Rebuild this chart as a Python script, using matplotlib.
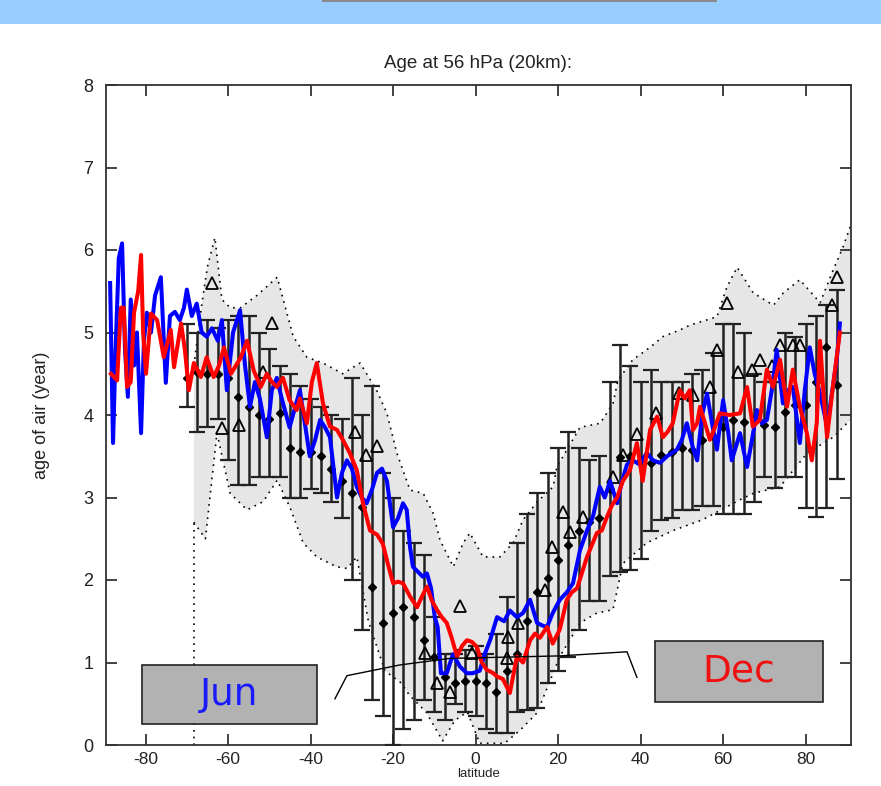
import numpy as np
import matplotlib
matplotlib.use("Agg")
import matplotlib.pyplot as plt
from matplotlib.patches import Rectangle

plt.rcParams['font.family'] = ['Liberation Sans', 'DejaVu Sans']
plt.rcParams['axes.unicode_minus'] = False

# model runs (Jun = blue, Dec = red)
jun_lat = [-88.6, -87.9, -87.2, -86.5, -85.7, -85.0, -84.3, -83.6, -82.8, -82.1,
           -81.1, -80.4, -79.7, -78.7, -77.7, -76.3, -75.1, -74.1, -72.9, -71.7,
           -70.7, -70.0, -68.8, -67.6, -66.4, -65.2, -63.9, -62.5, -61.5, -60.3,
           -58.8, -57.1, -55.9, -54.7, -53.5, -52.3, -50.6, -49.4, -48.2, -47.0,
           -45.1, -42.6, -41.4, -40.2, -38.9, -37.7, -36.5, -35.3, -33.6, -32.4,
           -31.2, -30.0, -28.8, -27.6, -26.4, -25.1, -23.9, -22.7, -21.5, -20.0,
           -18.8, -17.6, -16.7, -15.9, -15.2, -14.0, -12.8, -11.8, -10.8, -9.9,
           -9.2, -8.4, -7.0, -5.5, -3.8, -2.1, -0.7, 1.0, 2.2, 3.5,
           5.2, 6.9, 8.3, 10.0, 11.5, 13.2, 14.9, 16.1, 17.3, 18.7,
           20.4, 22.1, 23.6, 25.3, 27.0, 28.4, 30.1, 31.3, 32.6, 34.3,
           35.5, 36.7, 38.1, 39.8, 41.5, 43.0, 44.7, 46.4, 48.8, 50.0,
           51.2, 52.7, 53.7, 54.9, 56.1, 57.3, 58.5, 60.0, 61.2, 62.1,
           64.1, 65.8, 67.0, 68.2, 69.4, 70.6, 71.8, 73.0, 74.5, 75.7,
           76.9, 78.6, 79.8, 81.0, 82.2, 83.5, 85.2, 86.6, 87.6, 88.3]
jun_age = [5.6, 3.66, 4.9, 5.9, 6.08, 4.8, 4.22, 5.4, 4.6, 5.0,
           3.78, 4.9, 5.24, 5.0, 5.45, 5.67, 4.39, 5.2, 5.25, 5.15,
           5.3, 5.52, 5.2, 5.35, 5.0, 4.95, 5.05, 4.9, 5.15, 4.3,
           5.0, 5.27, 4.6, 4.1, 4.4, 4.2, 3.73, 4.3, 4.45, 4.2,
           3.85, 4.3, 3.9, 3.5, 3.7, 3.94, 3.85, 3.73, 3.0, 3.3,
           3.45, 3.35, 3.13, 3.0, 2.93, 3.1, 3.3, 3.35, 3.2, 2.64,
           2.75, 2.93, 2.85, 2.4, 2.16, 2.1, 2.04, 2.08, 1.9, 1.55,
           1.43, 0.87, 0.87, 1.1, 0.95, 0.87, 0.87, 0.9, 1.1, 1.27,
           1.55, 1.5, 1.63, 1.55, 1.6, 1.76, 1.48, 1.45, 1.43, 1.6,
           1.76, 1.85, 1.96, 2.36, 2.6, 2.76, 3.13, 3.0, 3.2, 2.93,
           3.2, 3.4, 3.45, 3.4, 3.54, 3.45, 3.42, 3.5, 3.58, 3.7,
           3.9, 3.6, 3.45, 4.0, 4.26, 3.9, 3.58, 4.18, 3.8, 3.45,
           3.78, 3.37, 3.7, 4.06, 3.9, 3.94, 4.3, 4.79, 4.14, 4.3,
           4.34, 3.66, 4.3, 4.82, 4.5, 4.26, 3.86, 4.34, 4.7, 5.11]

dec_lat = [-88.4, -86.9, -86.0, -85.3, -84.5, -83.6, -82.8, -81.8, -81.1, -80.6,
           -79.9, -78.7, -77.2, -75.6, -73.9, -73.1, -71.4, -70.5, -69.5, -68.3,
           -66.6, -65.2, -63.5, -62.2, -61.0, -59.3, -58.1, -56.9, -55.4, -53.8,
           -52.1, -50.6, -49.4, -48.2, -46.7, -45.1, -43.4, -42.6, -40.9, -39.7,
           -38.5, -37.0, -35.3, -33.6, -32.2, -30.5, -28.8, -27.3, -25.6, -23.9,
           -22.5, -21.3, -20.0, -18.8, -17.6, -15.9, -14.2, -13.0, -11.8, -10.6,
           -9.4, -8.2, -7.0, -5.8, -4.5, -3.3, -2.1, -0.9, 0.3, 1.5,
           2.7, 4.0, 5.2, 6.6, 8.3, 10.0, 11.5, 13.2, 14.4, 15.6,
           17.3, 18.7, 20.4, 22.1, 23.3, 24.6, 26.0, 27.0, 29.4, 30.6,
           31.8, 33.0, 34.3, 35.7, 37.4, 39.1, 40.5, 42.3, 44.0, 45.4,
           46.6, 47.8, 49.5, 50.7, 51.9, 52.7, 53.7, 54.4, 55.6, 56.8,
           58.0, 59.2, 61.6, 64.1, 65.8, 67.2, 68.9, 70.6, 72.1, 73.8,
           75.5, 76.9, 78.6, 80.3, 81.5, 82.7, 83.5, 84.4, 85.2, 86.6,
           88.3]
dec_age = [4.5, 4.42, 5.3, 5.3, 4.34, 4.4, 5.24, 5.5, 5.94, 5.0,
           4.5, 5.23, 5.15, 4.7, 5.03, 4.58, 5.11, 4.8, 4.3, 4.63,
           4.46, 4.7, 4.46, 4.6, 4.82, 4.5, 4.6, 4.7, 4.9, 4.54,
           4.34, 4.5, 4.4, 4.34, 4.45, 4.18, 4.06, 4.2, 3.9, 4.4,
           4.63, 4.14, 3.86, 3.82, 3.7, 3.54, 3.33, 2.93, 2.6, 2.55,
           2.44, 2.2, 1.96, 1.98, 1.96, 1.8, 1.67, 1.8, 1.92, 1.75,
           1.64, 1.55, 1.48, 1.3, 1.07, 1.2, 1.27, 1.25, 1.19, 1.0,
           0.91, 0.88, 0.83, 0.8, 0.63, 1.07, 1.0, 1.27, 1.35, 1.3,
           1.43, 1.23, 1.4, 1.76, 1.85, 1.9, 2.12, 2.28, 2.57, 2.6,
           2.76, 2.9, 3.0, 3.2, 3.33, 3.66, 3.2, 3.82, 3.98, 3.73,
           3.8, 3.9, 4.3, 4.2, 4.3, 3.82, 3.9, 4.1, 3.9, 3.7,
           3.85, 4.02, 4.0, 4.02, 4.34, 3.86, 3.94, 4.55, 4.34, 4.67,
           4.1, 4.55, 4.1, 3.78, 3.45, 3.9, 4.9, 4.2, 3.73, 4.34,
           5.0]

# observations: binned mean with range
obs_lat = [-70, -67.5, -65, -62.5, -60, -57.5, -55, -52.5, -50, -47.5,
           -45, -42.5, -40, -37.5, -35, -32.5, -30, -27.5, -25, -22.5,
           -20, -17.5, -15, -12.5, -10, -7.5, -5, -2.5, 0, 2.5,
           5, 7.5, 10, 12.5, 15, 17.5, 20, 22.5, 25, 27.5,
           30, 32.5, 35, 37.5, 40, 42.5, 45, 47.5, 50, 52.5,
           55, 57.5, 60, 62.5, 65, 67.5, 70, 72.5, 75, 77.5,
           80, 82.5, 85, 87.5]
obs_mean = [4.45, 4.52, 4.5, 4.5, 4.45, 4.22, 4.1, 4.0, 3.95, 4.02,
            3.6, 3.55, 3.55, 3.5, 3.35, 3.2, 3.05, 2.88, 1.92, 1.48,
            1.6, 1.67, 1.55, 1.27, 1.07, 0.83, 0.75, 0.77, 0.77, 0.75,
            0.64, 0.9, 1.1, 1.5, 1.85, 2.02, 2.24, 2.42, 2.6, 2.7,
            2.75, 3.1, 3.49, 3.5, 3.45, 3.42, 3.51, 3.55, 3.6, 3.58,
            3.7, 3.75, 3.85, 3.94, 3.92, 3.95, 3.88, 3.85, 4.04, 4.12,
            4.12, 4.4, 4.82, 4.36]
obs_lo = [4.1, 3.8, 3.85, 3.95, 3.45, 3.15, 3.15, 3.25, 3.25, 3.25,
          3.0, 3.0, 3.1, 3.05, 2.95, 2.75, 2.0, 1.4, 0.55, 0.35,
          0.0, 0.2, 0.3, 0.55, 0.4, 0.3, 0.5, 0.4, 0.35, 0.2,
          0.15, 0.15, 0.4, 0.42, 0.45, 0.75, 0.9, 1.07, 1.4, 1.75,
          1.75, 2.05, 2.1, 2.12, 2.25, 2.6, 2.73, 2.75, 2.85, 2.85,
          2.9, 2.9, 2.8, 2.8, 2.8, 2.95, 3.25, 3.12, 3.25, 3.25,
          2.87, 2.76, 2.87, 3.23]
obs_hi = [5.1, 5.0, 5.15, 5.05, 5.15, 5.2, 5.2, 5.0, 4.8, 4.6,
          4.5, 4.35, 4.2, 4.1, 4.0, 3.95, 4.45, 4.0, 4.35, 3.3,
          3.0, 2.6, 2.45, 2.3, 1.55, 1.1, 1.1, 1.15, 1.2, 1.1,
          1.35, 1.8, 2.45, 2.8, 3.05, 3.3, 3.6, 3.8, 3.6, 3.45,
          3.5, 4.4, 4.85, 4.6, 4.4, 4.55, 4.4, 4.4, 4.4, 4.5,
          4.55, 4.75, 5.1, 5.1, 5.0, 4.5, 4.4, 4.4, 5.0, 4.95,
          5.1, 5.2, 5.33, 5.52]

# other observations (open triangles)
tri_lat = [-64.0, -61.5, -57.3, -51.5, -49.3, -29.2, -26.6, -23.8, -12.3, -9.4,
           -6.2, -3.9, -0.9, 7.6, 7.8, 10.3, 16.8, 18.5, 21.2, 22.9,
           26.1, 33.3, 35.7, 39.2, 43.8, 49.2, 52.7, 56.8, 58.5, 60.9,
           63.6, 67.0, 68.9, 71.8, 73.8, 77.0, 78.6, 86.4, 87.7]
tri_age = [5.6, 3.84, 3.88, 4.52, 5.11, 3.79, 3.52, 3.63, 1.11, 0.75,
           0.64, 1.68, 1.11, 1.05, 1.31, 1.48, 1.88, 2.4, 2.83, 2.58,
           2.76, 3.25, 3.52, 3.77, 4.02, 4.27, 4.24, 4.34, 4.79, 5.36,
           4.52, 4.54, 4.67, 4.6, 4.85, 4.85, 4.85, 5.33, 5.67]

# envelope (dotted, shaded)
env_up_lat = [-68.3, -66.5, -65.0, -63.2, -61.5, -59.5, -57.0, -53.0, -48.1, -44.2,
              -40.9, -37.0, -32.2, -28.0, -24.0, -21.5, -19.1, -15.9, -12.7, -10.3,
              -8.6, -5.4, -3.0, -1.4, 1.8, 5.9, 9.1, 11.5, 15.0, 18.8,
              19.7, 25.3, 30.2, 33.3, 34.5, 38.1, 42.3, 45.4, 49.5, 52.0,
              58.5, 60.9, 63.4, 67.3, 72.2, 74.6, 78.6, 83.5, 86.7, 89.1,
              90.8]
env_up_age = [4.6, 5.3, 5.8, 6.15, 5.4, 5.3, 5.3, 5.45, 5.67, 4.95,
              4.7, 4.63, 4.5, 4.63, 4.3, 4.02, 3.54, 3.09, 3.05, 2.81,
              2.48, 2.16, 2.45, 2.57, 2.28, 2.28, 2.45, 2.73, 2.95, 3.13,
              3.37, 3.85, 3.9, 4.14, 4.42, 4.67, 4.82, 4.95, 5.03, 5.09,
              5.19, 5.55, 5.79, 5.48, 5.33, 5.48, 5.64, 5.36, 5.76, 6.04,
              6.28]
env_lo_lat = [-68.3, -65.5, -62.7, -59.5, -55.4, -51.5, -48.1, -45.0, -41.8, -38.5,
              -33.7, -31.2, -28.8, -26.0, -22.0, -18.0, -16.0, -12.0, -8.0, -5.0,
              -2.0, 1.0, 7.0, 10.8, 14.9, 20.4, 25.3, 29.4, 33.3, 35.7,
              41.5, 47.9, 55.0, 64.0, 67.3, 73.8, 80.4, 86.7, 90.8]
env_lo_age = [2.7, 2.5, 3.78, 3.05, 2.85, 2.95, 3.21, 2.88, 2.45, 2.28,
              2.16, 2.14, 2.28, 1.5, 0.9, 0.75, 0.6, 0.4, 0.05, 0.3,
              0.4, 0.02, 0.02, 0.18, 0.39, 1.07, 1.48, 1.6, 1.64, 2.2,
              2.45, 2.6, 2.73, 2.97, 3.05, 3.13, 3.54, 3.73, 3.94]
# dotted drop line at the southern edge of the envelope
edge_lat = [-68.3, -68.3]
edge_age = [0.0, 2.7]

# bracket under the curves
bracket_lat = [-34.1, -31.2, -18.4, -6.2, 20.4, 36.7, 39.1]
bracket_age = [0.56, 0.84, 0.97, 1.05, 1.08, 1.13, 0.82]

fig = plt.figure(figsize=(8.81, 7.86), dpi=100)
fig.patch.set_facecolor('white')
fig.add_artist(Rectangle((0, 1 - 24 / 786), 1, 24 / 786, transform=fig.transFigure,
                         facecolor='#99ccff', edgecolor='none'))
fig.add_artist(Rectangle((322 / 881, 1 - 2 / 786), 395 / 881, 2 / 786, transform=fig.transFigure,
                         facecolor='#8a8a8a', edgecolor='none'))

ax = fig.add_axes([106 / 881, 41 / 786, 745 / 881, 660 / 786])

dots = (0, (1, 3))
env_x = np.concatenate([env_up_lat, env_lo_lat[::-1]])
env_y = np.concatenate([env_up_age, env_lo_age[::-1]])
ax.fill(env_x, env_y, color='#e6e6e6', lw=0, zorder=1)
ax.plot(env_up_lat, env_up_age, color='k', ls=dots, lw=1.2, zorder=2)
ax.plot(env_lo_lat, env_lo_age, color='k', ls=dots, lw=1.2, zorder=2)
ax.plot(edge_lat, edge_age, color='k', ls=dots, lw=1.2, zorder=2)

m = np.array(obs_mean)
yerr = [m - np.array(obs_lo), np.array(obs_hi) - m]
ax.errorbar(obs_lat, obs_mean, yerr=yerr, fmt='none', ecolor='#222222',
            elinewidth=1.8, capsize=6, capthick=1.6, zorder=3)
ax.plot(obs_lat, obs_mean, 'D', color='k', ms=4, zorder=4)
ax.plot(tri_lat, tri_age, '^', mfc='none', mec='k', mew=1.3, ms=8, zorder=4)

ax.plot(jun_lat, jun_age, color='#0000ff', lw=2.9, zorder=5)
ax.plot(dec_lat, dec_age, color='#ff0000', lw=2.9, zorder=6)

ax.plot(bracket_lat, bracket_age, color='k', lw=1.0, zorder=7)

ax.add_patch(Rectangle((0.048, 0.032), 0.235, 0.089, transform=ax.transAxes,
                       facecolor='#b2b2b2', edgecolor='#222222', lw=1.2, zorder=8))
ax.text(0.1655, 0.076, 'Jun', transform=ax.transAxes, ha='center', va='center',
        fontsize=27, color='#1a1aff', family='DejaVu Sans', zorder=9)
ax.add_patch(Rectangle((0.737, 0.065), 0.225, 0.093, transform=ax.transAxes,
                       facecolor='#b2b2b2', edgecolor='#222222', lw=1.2, zorder=8))
ax.text(0.8495, 0.111, 'Dec', transform=ax.transAxes, ha='center', va='center',
        fontsize=27, color='#ee1111', family='DejaVu Sans', zorder=9)

ax.set_xlim(-89.6, 91.0)
ax.set_ylim(0, 8)
ax.set_xticks([-80, -60, -40, -20, 0, 20, 40, 60, 80])
ax.set_yticks([0, 1, 2, 3, 4, 5, 6, 7, 8])
ax.tick_params(direction='in', length=8, width=1.2, top=True, right=True,
               labelsize=13, pad=9, colors='#222222')
ax.tick_params(axis='x', pad=5, labelsize=12.5)
for s in ax.spines.values():
    s.set_linewidth(1.3)
    s.set_color('#333333')

ax.set_title('Age at 56 hPa (20km):', fontsize=13.5, pad=12, color='#222222')
ax.set_ylabel('age of air (year)', fontsize=13, labelpad=24, color='#222222')
ax.set_xlabel('latitude', fontsize=9.5, labelpad=1, color='#222222')

fig.savefig('out.png', dpi=100)
